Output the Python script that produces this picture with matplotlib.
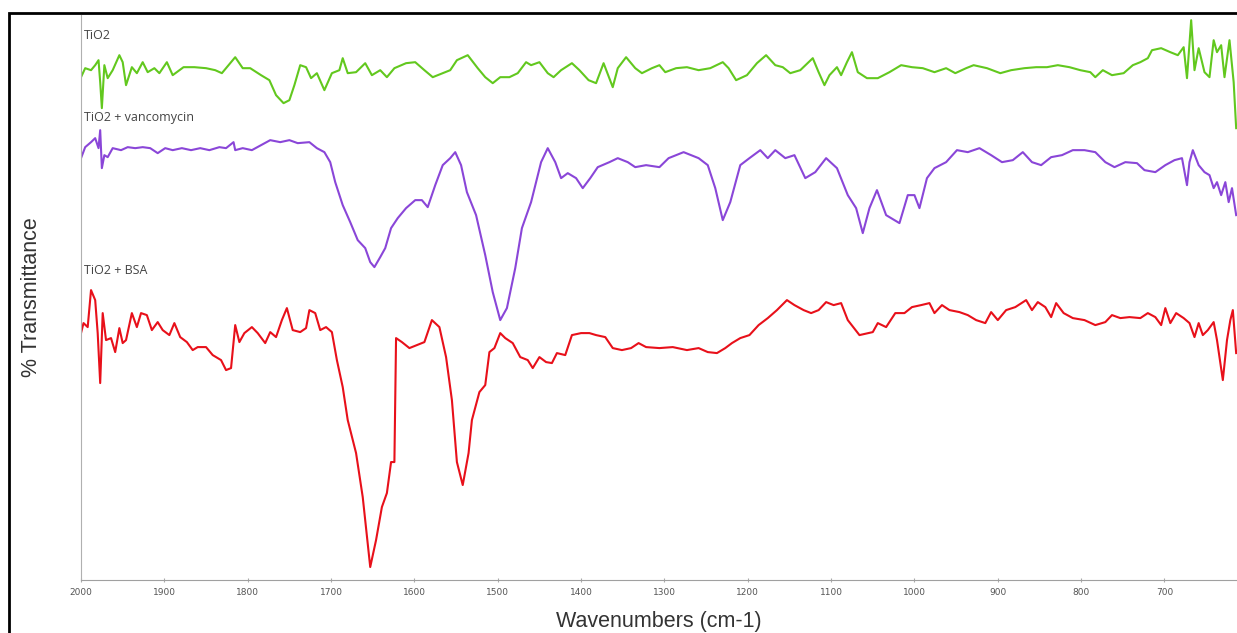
import matplotlib.pyplot as plt
from matplotlib.patches import Rectangle

# FTIR spectra, wavenumber (cm-1) vs transmittance (arbitrary offset units)
tio2_wn = [2000, 1995, 1988, 1983, 1979, 1977, 1975, 1972, 1968, 1962, 1954, 1950, 1946, 1939,
           1933, 1926, 1920, 1912, 1906, 1897, 1890, 1877, 1864, 1850, 1839, 1831, 1826, 1815,
           1806, 1797, 1784, 1774, 1766, 1757, 1750, 1744, 1737, 1730, 1724, 1717, 1708, 1699,
           1690, 1686, 1680, 1670, 1659, 1651, 1641, 1633, 1624, 1610, 1599, 1588, 1578, 1566,
           1557, 1549, 1536, 1524, 1515, 1506, 1497, 1486, 1476, 1466, 1460, 1450, 1440, 1433,
           1424, 1411, 1402, 1391, 1382, 1373, 1362, 1356, 1346, 1335, 1327, 1315, 1306, 1299,
           1286, 1273, 1259, 1245, 1230, 1223, 1214, 1201, 1189, 1178, 1167, 1158, 1149, 1137,
           1122, 1115, 1108, 1102, 1093, 1088, 1081, 1075, 1068, 1057, 1044, 1030, 1016, 1003,
           990, 976, 962, 951, 938, 929, 913, 897, 884, 868, 854, 841, 828, 814, 801, 789, 783,
           774, 763, 749, 738, 729, 720, 715, 704, 693, 684, 677, 673, 668, 664, 659, 652, 646,
           641, 637, 632, 628, 622, 617, 614]
tio2_t = [100.6, 102.4, 102.0, 103.0, 104.0, 99.6, 94.4, 103.0, 100.4, 102.0, 105.0, 103.6, 99.0,
          102.6, 101.4, 103.6, 101.6, 102.4, 101.4, 103.6, 101.0, 102.6, 102.6, 102.4, 102.0,
          101.4, 102.4, 104.6, 102.4, 102.4, 101.0, 100.0, 97.0, 95.4, 96.0, 99.0, 103.0, 102.6,
          100.4, 101.4, 98.0, 101.4, 102.0, 104.4, 101.4, 101.6, 103.4, 101.0, 102.0, 100.6,
          102.4, 103.4, 103.6, 102.0, 100.6, 101.4, 102.0, 104.0, 105.0, 102.4, 100.6, 99.4,
          100.6, 100.6, 101.4, 103.6, 103.0, 103.6, 101.4, 100.6, 102.0, 103.4, 102.0, 100.0,
          99.4, 103.4, 98.6, 102.4, 104.6, 102.4, 101.4, 102.4, 103.0, 101.6, 102.4, 102.6,
          102.0, 102.4, 103.6, 102.4, 100.0, 101.0, 103.4, 105.0, 103.0, 102.6, 101.4, 102.0,
          104.4, 101.6, 99.0, 101.0, 102.6, 101.0, 103.6, 105.6, 101.6, 100.4, 100.4, 101.6,
          103.0, 102.6, 102.4, 101.6, 102.4, 101.4, 102.4, 103.0, 102.4, 101.4, 102.0, 102.4,
          102.6, 102.6, 103.0, 102.6, 102.0, 101.6, 100.6, 102.0, 101.0, 101.4, 103.0, 103.6,
          104.4, 106.0, 106.4, 105.6, 105.0, 106.6, 100.4, 112.0, 102.0, 106.4, 101.6, 100.6,
          108.0, 105.6, 107.0, 100.6, 108.0, 99.6, 90.4]

vanco_wn = [2000, 1995, 1988, 1983, 1979, 1977, 1975, 1972, 1968, 1962, 1952, 1944, 1935, 1926,
            1917, 1908, 1899, 1890, 1879, 1868, 1857, 1846, 1834, 1826, 1817, 1815, 1806, 1795,
            1784, 1773, 1761, 1750, 1740, 1726, 1717, 1708, 1701, 1695, 1686, 1677, 1668, 1659,
            1653, 1648, 1641, 1635, 1628, 1620, 1610, 1599, 1591, 1584, 1575, 1566, 1557, 1551,
            1544, 1537, 1526, 1515, 1506, 1497, 1489, 1479, 1471, 1460, 1448, 1440, 1431, 1424,
            1416, 1406, 1398, 1389, 1380, 1366, 1356, 1344, 1335, 1322, 1306, 1295, 1277, 1259,
            1248, 1239, 1230, 1221, 1209, 1198, 1185, 1176, 1167, 1155, 1144, 1131, 1119, 1106,
            1093, 1080, 1070, 1062, 1054, 1045, 1034, 1018, 1008, 1000, 994, 985, 976, 962, 949,
            936, 922, 908, 895, 882, 870, 859, 848, 836, 823, 810, 796, 783, 771, 760, 747, 733,
            724, 711, 699, 688, 679, 673, 670, 666, 659, 652, 646, 641, 637, 632, 627, 623, 619,
            614]
vanco_t = [84.4, 86.6, 87.6, 88.4, 86.4, 90.0, 82.4, 85.0, 84.6, 86.4, 86.0, 86.6, 86.4, 86.6,
           86.4, 85.4, 86.4, 86.0, 86.4, 86.0, 86.4, 86.0, 86.6, 86.4, 87.6, 86.0, 86.4, 86.0,
           87.0, 88.0, 87.6, 88.0, 87.4, 87.6, 86.4, 85.6, 83.6, 79.6, 75.0, 71.6, 68.0, 66.4,
           63.6, 62.6, 64.6, 66.4, 70.4, 72.4, 74.4, 76.0, 76.0, 74.6, 79.0, 83.0, 84.4, 85.6,
           83.0, 77.6, 73.0, 65.0, 57.6, 52.0, 54.4, 62.4, 70.4, 75.6, 83.6, 86.4, 83.6, 80.4,
           81.4, 80.4, 78.4, 80.4, 82.6, 83.6, 84.4, 83.6, 82.6, 83.0, 82.6, 84.4, 85.6, 84.4,
           83.0, 78.4, 72.0, 75.6, 83.0, 84.4, 86.0, 84.4, 86.0, 84.4, 85.0, 80.4, 81.6, 84.4,
           82.4, 77.0, 74.4, 69.4, 74.4, 78.0, 73.0, 71.4, 77.0, 77.0, 74.4, 80.4, 82.4, 83.6,
           86.0, 85.6, 86.4, 85.0, 83.6, 84.0, 85.6, 83.6, 83.0, 84.6, 85.0, 86.0, 86.0, 85.6,
           83.6, 82.6, 83.6, 83.4, 82.0, 81.6, 83.0, 84.0, 84.4, 79.0, 83.6, 86.0, 83.0, 81.6,
           81.0, 78.4, 79.6, 77.0, 79.6, 75.6, 78.4, 73.0]

bsa_wn = [2000, 1997, 1992, 1988, 1983, 1980, 1977, 1974, 1970, 1964, 1959, 1954, 1950, 1946,
          1939, 1933, 1928, 1921, 1915, 1908, 1902, 1894, 1888, 1881, 1873, 1866, 1860, 1850,
          1842, 1832, 1826, 1820, 1815, 1810, 1804, 1795, 1788, 1779, 1773, 1766, 1759, 1753,
          1746, 1737, 1730, 1726, 1719, 1713, 1706, 1699, 1693, 1686, 1680, 1670, 1662, 1653,
          1646, 1639, 1633, 1628, 1624, 1622, 1615, 1606, 1597, 1588, 1579, 1570, 1562, 1555,
          1549, 1542, 1535, 1531, 1522, 1515, 1510, 1504, 1497, 1491, 1482, 1473, 1464, 1458,
          1450, 1442, 1435, 1429, 1419, 1411, 1400, 1390, 1382, 1371, 1362, 1351, 1340, 1331,
          1322, 1306, 1290, 1273, 1259, 1248, 1237, 1227, 1219, 1209, 1198, 1187, 1176, 1165,
          1153, 1144, 1133, 1124, 1115, 1106, 1097, 1088, 1080, 1066, 1050, 1044, 1034, 1023,
          1012, 1003, 992, 982, 976, 967, 958, 946, 936, 926, 915, 908, 900, 890, 879, 866, 859,
          852, 843, 836, 830, 821, 810, 796, 783, 771, 763, 753, 742, 729, 720, 711, 704, 699,
          693, 686, 677, 670, 664, 659, 654, 648, 641, 637, 630, 625, 621, 618, 614]
bsa_t = [49.4, 51.4, 50.6, 58.0, 56.0, 49.4, 39.4, 53.4, 48.0, 48.4, 45.6, 50.4, 47.4, 48.0,
         53.4, 50.6, 53.4, 53.0, 50.0, 51.6, 50.0, 49.0, 51.4, 48.6, 47.6, 46.0, 46.6, 46.6,
         45.0, 44.0, 42.0, 42.4, 51.0, 47.6, 49.4, 50.6, 49.4, 47.4, 49.6, 48.6, 52.0, 54.4,
         50.0, 49.6, 50.4, 54.0, 53.4, 50.0, 50.6, 49.6, 44.0, 38.6, 32.0, 25.4, 16.6, 2.6,
         8.0, 14.6, 17.4, 23.6, 23.6, 48.4, 47.6, 46.4, 47.0, 47.6, 52.0, 50.6, 44.6, 36.0,
         23.6, 19.0, 25.4, 32.0, 37.6, 39.0, 45.6, 46.4, 49.4, 48.4, 47.4, 44.6, 44.0, 42.4,
         44.6, 43.6, 43.4, 45.4, 45.0, 49.0, 49.4, 49.4, 49.0, 48.6, 46.4, 46.0, 46.4, 47.4,
         46.6, 46.4, 46.6, 46.0, 46.4, 45.6, 45.4, 46.4, 47.4, 48.4, 49.0, 51.0, 52.4, 54.0,
         56.0, 55.0, 54.0, 53.4, 54.0, 55.6, 55.0, 55.4, 52.0, 49.0, 49.6, 51.4, 50.6, 53.4,
         53.4, 54.6, 55.0, 55.4, 53.4, 55.0, 54.0, 53.6, 53.0, 52.0, 51.4, 53.6, 52.0, 54.0,
         54.6, 56.0, 54.0, 55.6, 54.6, 52.6, 55.4, 53.4, 52.4, 52.0, 51.0, 51.6, 53.0, 52.4,
         52.6, 52.4, 53.4, 52.6, 51.0, 54.4, 51.4, 53.4, 52.4, 51.4, 48.6, 51.4, 49.0, 50.0,
         51.6, 48.0, 40.0, 48.0, 52.0, 54.0, 45.4]

series_labels = ['TiO2', 'TiO2 + vancomycin', 'TiO2 + BSA']
label_pos = [109.0, 92.6, 62.0]
colors = ['#62c81e', '#8a46d8', '#e8101a']
xtick_vals = [2000, 1900, 1800, 1700, 1600, 1500, 1400, 1300, 1200, 1100, 1000, 900, 800, 700]

fig = plt.figure(figsize=(12.37, 6.33), dpi=100)
ax = fig.add_axes([0.0655, 0.0837, 0.9345, 0.8923])

ax.plot(tio2_wn, tio2_t, color=colors[0], lw=1.5)
ax.plot(vanco_wn, vanco_t, color=colors[1], lw=1.5)
ax.plot(bsa_wn, bsa_t, color=colors[2], lw=1.5)

# etiquetas de cada espectro
for lab, yv in zip(series_labels, label_pos):
    ax.text(1996, yv, lab, fontsize=9, color='#444444', family=['Open Sans', 'DejaVu Sans'],
            ha='left', va='center')

ax.set_xlim(2000, 613)
ax.set_ylim(0, 113)
ax.set_xticks(xtick_vals)
ax.set_xticklabels([str(v) for v in xtick_vals])
ax.set_yticks([])
ax.tick_params(axis='x', labelsize=6.5, labelcolor='#555555', color='#aaaaaa',
               length=3, direction='inout', pad=4)

for s in ['top', 'right']:
    ax.spines[s].set_visible(False)
ax.spines['left'].set_color('#b0b0b0')
ax.spines['bottom'].set_color('#a0a0a0')
ax.spines['left'].set_linewidth(0.8)
ax.spines['bottom'].set_linewidth(0.8)

ax.set_xlabel('Wavenumbers (cm-1)', fontsize=15.5, family='Liberation Sans',
              color='#333333', labelpad=10)
ax.set_ylabel('% Transmittance', fontsize=15.5, family='Liberation Sans',
              color='#333333', labelpad=28)

# marco negro alrededor de la figura (cortado a la derecha y abajo)
frame = Rectangle((0.0075, -0.2), 1.2, 1.18, transform=fig.transFigure,
                  fill=False, ec='black', lw=2.0)
fig.patches.append(frame)

plt.savefig('out.png', dpi=100)
